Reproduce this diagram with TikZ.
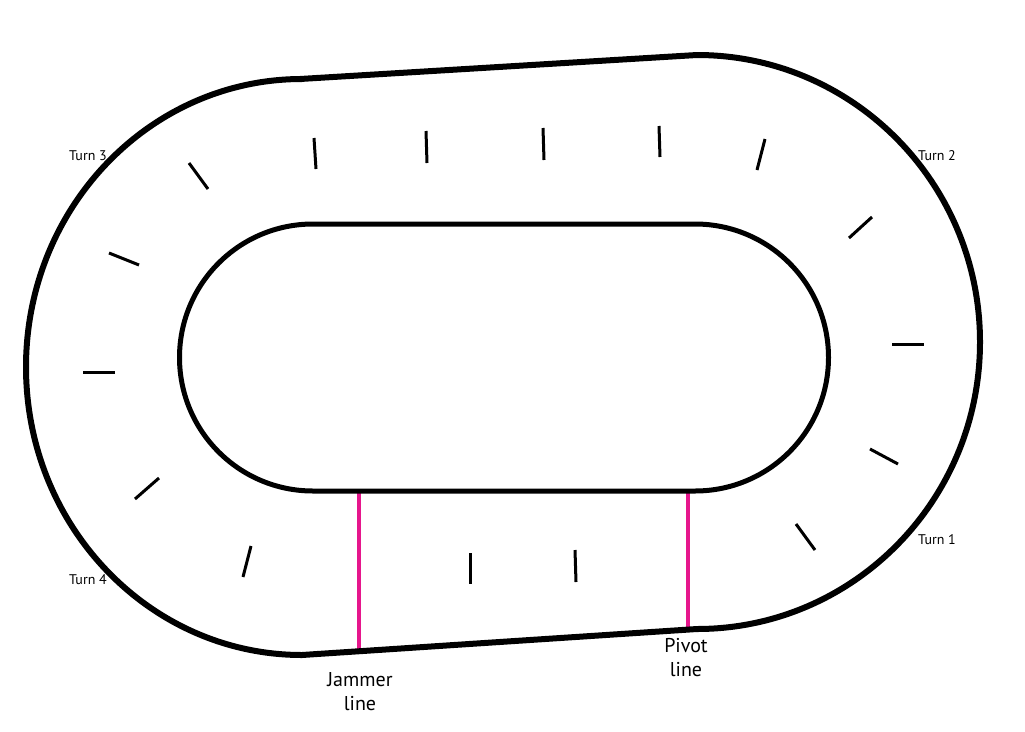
\documentclass[tikz,border=0pt]{standalone}
\usepackage{fontspec}
\setmainfont{PT Sans}
\definecolor{pinkline}{RGB}{230,22,140}
\begin{document}
\begin{tikzpicture}[x=1pt,y=-1pt,
  outerline/.style={line width=6pt,line join=round},
  innerline/.style={line width=5pt,line join=round},
  tick/.style={line width=3pt},
  refline/.style={line width=4.5pt,pinkline},
  turnlabel/.style={font=\fontsize{14}{16}\selectfont,inner sep=0pt},
  linelabel/.style={font=\fontsize{20}{24}\selectfont,align=center,inner sep=0pt}]
\useasboundingbox (0,0) rectangle (1025,731);
% reference lines
\coordinate (jtop) at (359,492);
\coordinate (jbot) at (359,651);
\coordinate (ptop) at (688,492);
\coordinate (pbot) at (688,629);
\draw[refline] (jtop) -- (jbot);
\draw[refline] (ptop) -- (pbot);
% outer boundary
\draw[outerline] (300,79) -- (697,55)
  arc[start angle=-90,end angle=90,x radius=283,y radius=287]
  -- (302,655)
  arc[start angle=90,end angle=270,x radius=276,y radius=288] -- cycle;
% inner boundary
\draw[innerline] (313,224) -- (695,224)
  arc[start angle=-90,end angle=90,radius=133.5]
  -- (313,491)
  arc[start angle=90,end angle=270,radius=133.5] -- cycle;
% ticks
\draw[tick] (189,163) -- (208,189);
\draw[tick] (109,253) -- (139,265);
\draw[tick] (83,372) -- (115,372);
\draw[tick] (159,478) -- (135,499);
\draw[tick] (251,546) -- (243,577);
\draw[tick] (470,553) -- (470,584);
\draw[tick] (575,550) -- (576,582);
\draw[tick] (796,524) -- (815,550);
\draw[tick] (870,449) -- (898,464);
\draw[tick] (892,344) -- (924,344);
\draw[tick] (872,217) -- (849,238);
\draw[tick] (765,139) -- (757,170);
\draw[tick] (659,126) -- (660,157);
\draw[tick] (543,128) -- (544,160);
\draw[tick] (426,131) -- (427,163);
\draw[tick] (314,138) -- (316,169);
% labels
\node[turnlabel] (t3) at (88,156) {Turn 3};
\node[turnlabel] (t2) at (937,156) {Turn 2};
\node[turnlabel] (t1) at (937,540) {Turn 1};
\node[turnlabel] (t4) at (88,580) {Turn 4};
\node[linelabel] (jl) at (360,692) {Jammer\\line};
\node[linelabel] (pl) at (686,658) {Pivot\\line};
\end{tikzpicture}
\end{document}
